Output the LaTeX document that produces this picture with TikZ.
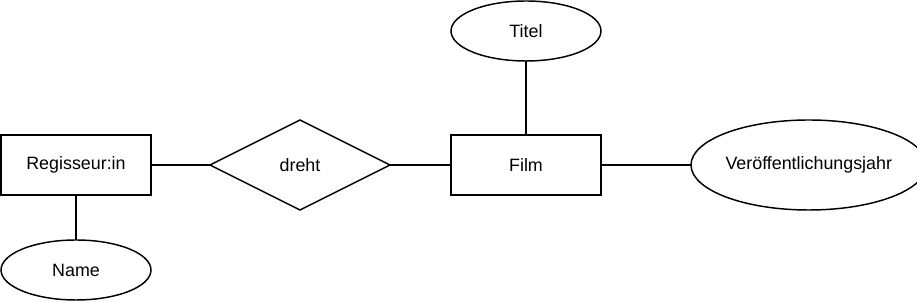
\documentclass[tikz,border=0pt]{standalone}
\usepackage{fontspec}
\setmainfont{Liberation Sans}
\usetikzlibrary{shapes.geometric, positioning}

\begin{document}
\begin{tikzpicture}[
    x=0.75pt, y=0.75pt,
    line width=1.1pt,
    font=\fontsize{13.4}{16}\selectfont,
    entity/.style={draw, minimum width=112.5pt, minimum height=45pt, inner sep=0pt, outer sep=0pt},
    attr/.style={draw, ellipse, minimum width=112.5pt, minimum height=45pt, inner sep=0pt, outer sep=0pt},
    rel/.style={draw, diamond, minimum width=135pt, minimum height=67.5pt, inner sep=0pt, outer sep=0pt}
]
\useasboundingbox (0,0) rectangle (917,302);
\node[entity] (regisseur) at (76,137) {Regisseur:in};
\node[attr, below=33.75pt of regisseur] (name) {Name};
\node[rel, right=44.25pt of regisseur] (dreht) {dreht};
\node[entity, right=45.75pt of dreht] (film) {Film};
\node[attr, above=55.5pt of film] (titel) {Titel};
\node[attr, minimum width=168pt, minimum height=67.5pt, right=67.5pt of film] (jahr) {Veröffentlichungsjahr};
\draw (regisseur) -- (name);
\draw (regisseur) -- (dreht);
\draw (dreht) -- (film);
\draw (film) -- (titel);
\draw (film) -- (jahr);
\end{tikzpicture}
\end{document}
